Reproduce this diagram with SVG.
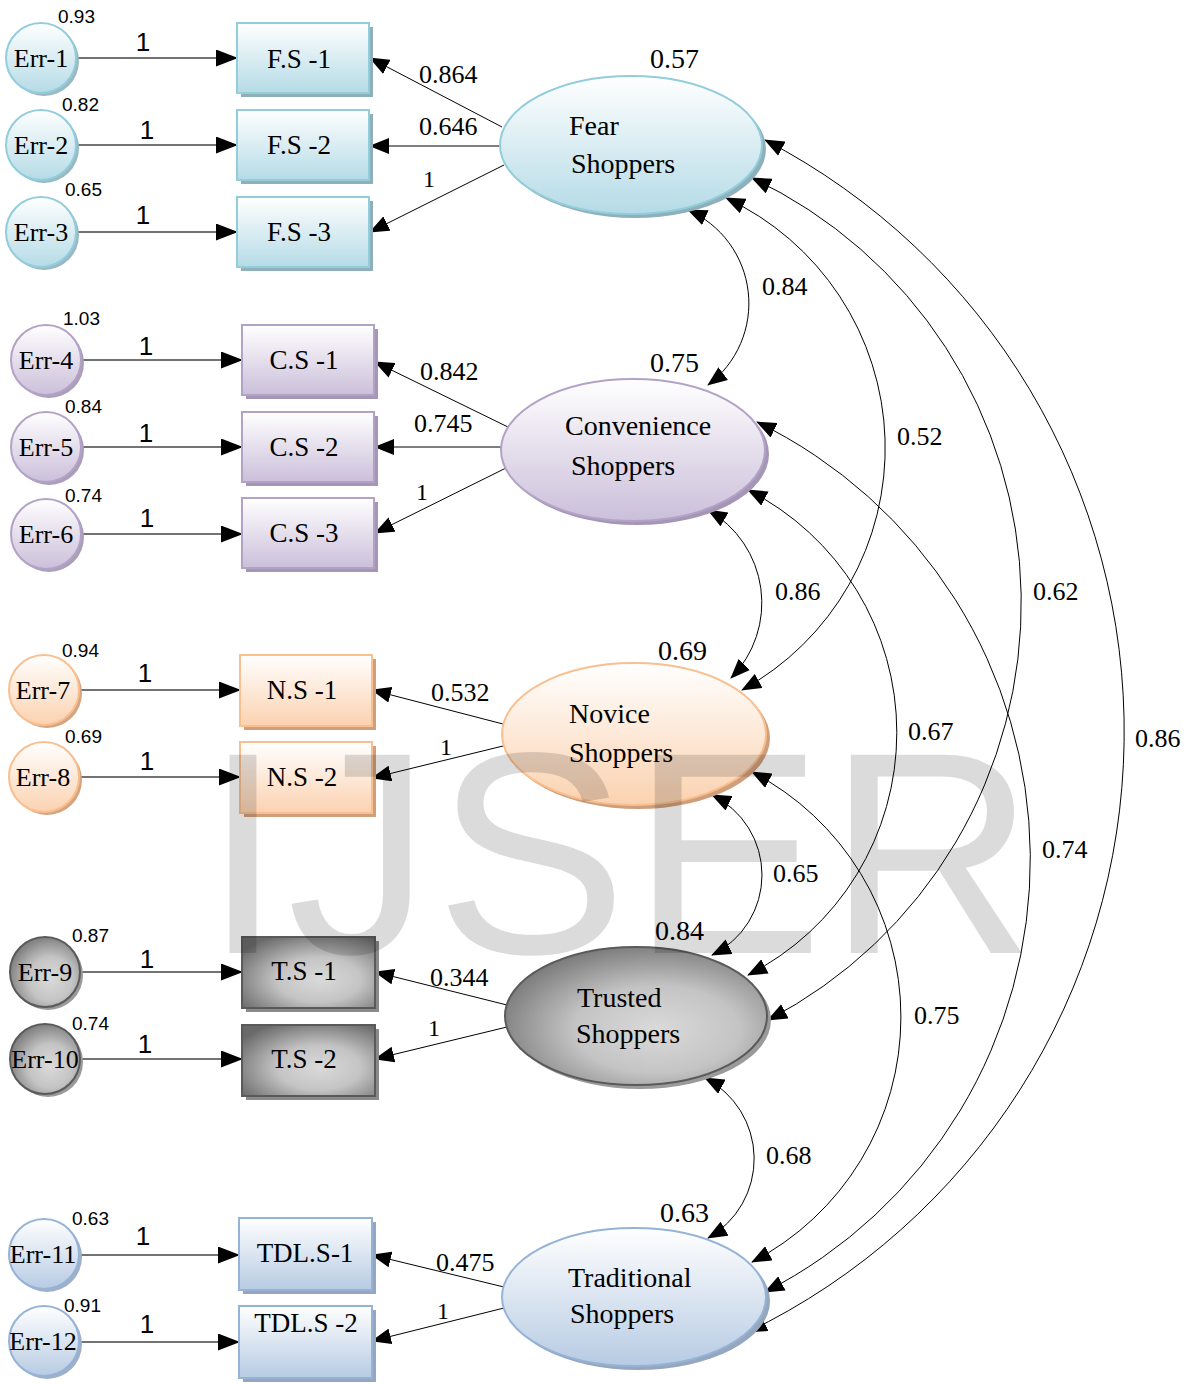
<svg xmlns="http://www.w3.org/2000/svg" width="1191" height="1384" viewBox="0 0 1191 1384">
<style>
.t{font-family:"Liberation Serif","Times New Roman",serif;fill:#000}
.tb{font-size:27px;text-anchor:middle}
.te{font-size:26px;text-anchor:middle}
.tl{font-size:28px}
.tn{font-size:26px}
.a{font-family:"Liberation Sans",Arial,sans-serif;fill:#000}
.av{font-size:19px}
.a1{font-size:26px;text-anchor:middle}
.eline{stroke:#444;stroke-width:1.4;fill:none}
.ln{stroke:#000;stroke-width:1;fill:none}
.cov{stroke:#000;stroke-width:1;fill:none}
.fear{stroke:#92cddc;stroke-width:2}
.conv{stroke:#b3a2c7;stroke-width:2}
.nov{stroke:#f9bf8f;stroke-width:2}
.trus{stroke:#5a5a5a;stroke-width:2}
.trad{stroke:#95b3d7;stroke-width:2}
</style>
<defs>
<linearGradient id="gFear" x1="0" y1="0" x2="0" y2="1"><stop offset="0" stop-color="#ffffff"/><stop offset="1" stop-color="#b5dbe6"/></linearGradient>
<linearGradient id="gConv" x1="0" y1="0" x2="0" y2="1"><stop offset="0" stop-color="#ffffff"/><stop offset="1" stop-color="#cbbfda"/></linearGradient>
<linearGradient id="gNov" x1="0" y1="0" x2="0" y2="1"><stop offset="0" stop-color="#ffffff"/><stop offset="1" stop-color="#fbd2b0"/></linearGradient>
<linearGradient id="gTrad" x1="0" y1="0" x2="0" y2="1"><stop offset="0" stop-color="#ffffff"/><stop offset="1" stop-color="#b7cbe3"/></linearGradient>
<radialGradient id="gTrus" cx="0.58" cy="0.6" r="0.7"><stop offset="0" stop-color="#dadada"/><stop offset="0.45" stop-color="#c4c4c4"/><stop offset="1" stop-color="#6a6a6a"/></radialGradient>
<marker id="ah" viewBox="0 0 22 17" refX="21" refY="8.5" markerWidth="22" markerHeight="17" markerUnits="userSpaceOnUse" orient="auto-start-reverse"><path d="M0,0 L22,8.5 L0,17 z" fill="#000"/></marker>
<marker id="ahs" viewBox="0 0 20 16" refX="19" refY="8" markerWidth="20" markerHeight="16" markerUnits="userSpaceOnUse" orient="auto-start-reverse"><path d="M0,0 L20,8 L0,16 z" fill="#000"/></marker>
</defs>
<rect width="1191" height="1384" fill="#fff"/>

<g id="connectors">
<path class="eline" d="M76,58 H237" marker-end="url(#ah)"/>
<path class="eline" d="M76,145 H237" marker-end="url(#ah)"/>
<path class="eline" d="M76,232 H237" marker-end="url(#ah)"/>
<path class="eline" d="M81,360 H242" marker-end="url(#ah)"/>
<path class="eline" d="M81,447 H242" marker-end="url(#ah)"/>
<path class="eline" d="M81,534 H242" marker-end="url(#ah)"/>
<path class="eline" d="M79,690 H240" marker-end="url(#ah)"/>
<path class="eline" d="M79,777 H240" marker-end="url(#ah)"/>
<path class="eline" d="M80,972 H242" marker-end="url(#ah)"/>
<path class="eline" d="M80,1059 H242" marker-end="url(#ah)"/>
<path class="eline" d="M79,1255 H239" marker-end="url(#ah)"/>
<path class="eline" d="M79,1342 H239" marker-end="url(#ah)"/>
<path class="ln" d="M502,127 L370,58" marker-end="url(#ahs)"/>
<path class="ln" d="M500,146 L370,146" marker-end="url(#ahs)"/>
<path class="ln" d="M504,165 L370,232" marker-end="url(#ahs)"/>
<path class="ln" d="M510,428 L375,362" marker-end="url(#ahs)"/>
<path class="ln" d="M502,447 L375,447" marker-end="url(#ahs)"/>
<path class="ln" d="M508,467 L375,533" marker-end="url(#ahs)"/>
<path class="ln" d="M503,724 L372,690" marker-end="url(#ahs)"/>
<path class="ln" d="M503,746 L372,778" marker-end="url(#ahs)"/>
<path class="ln" d="M507,1005 L375,972" marker-end="url(#ahs)"/>
<path class="ln" d="M507,1027 L375,1059" marker-end="url(#ahs)"/>
<path class="ln" d="M504,1287 L372,1255" marker-end="url(#ahs)"/>
<path class="ln" d="M504,1308 L372,1341" marker-end="url(#ahs)"/>
<path class="cov" d="M688,210 A102,102 0 0 1 708,385" marker-start="url(#ahs)" marker-end="url(#ahs)"/>
<path class="cov" d="M726,198 A276,276 0 0 1 742,690" marker-start="url(#ahs)" marker-end="url(#ahs)"/>
<path class="cov" d="M752,178 A470,470 0 0 1 768,1020" marker-start="url(#ahs)" marker-end="url(#ahs)"/>
<path class="cov" d="M765,140 A667,667 0 0 1 748,1332" marker-start="url(#ahs)" marker-end="url(#ahs)"/>
<path class="cov" d="M708,510 A107,107 0 0 1 731,678" marker-start="url(#ahs)" marker-end="url(#ahs)"/>
<path class="cov" d="M757,422 A486,486 0 0 1 765,1292" marker-start="url(#ahs)" marker-end="url(#ahs)"/>
<path class="cov" d="M748,490 A272,272 0 0 1 748,975" marker-start="url(#ahs)" marker-end="url(#ahs)"/>
<path class="cov" d="M712,795 A89,89 0 0 1 712,955" marker-start="url(#ahs)" marker-end="url(#ahs)"/>
<path class="cov" d="M752,772 A276,276 0 0 1 752,1262" marker-start="url(#ahs)" marker-end="url(#ahs)"/>
<path class="cov" d="M705,1078 A91,91 0 0 1 708,1238" marker-start="url(#ahs)" marker-end="url(#ahs)"/>
<g class="a a1">
<text x="143" y="51">1</text><text x="147" y="139">1</text><text x="143" y="224">1</text>
<text x="146" y="355">1</text><text x="146" y="442">1</text><text x="147" y="527">1</text>
<text x="145" y="682">1</text><text x="147" y="770">1</text>
<text x="147" y="968">1</text><text x="145" y="1053">1</text>
<text x="143" y="1245">1</text><text x="147" y="1333">1</text>
</g>
<g class="t tn">
<text x="419" y="83">0.864</text><text x="419" y="135">0.646</text><text x="423" y="187" font-size="24">1</text>
<text x="420" y="380">0.842</text><text x="414" y="432">0.745</text><text x="416" y="500" font-size="24">1</text>
<text x="431" y="701">0.532</text><text x="440" y="755" font-size="24">1</text>
<text x="430" y="986">0.344</text><text x="428" y="1036" font-size="24">1</text>
<text x="436" y="1271">0.475</text><text x="437" y="1319" font-size="24">1</text>
<text x="762" y="295">0.84</text><text x="897" y="445">0.52</text><text x="775" y="600">0.86</text>
<text x="1033" y="600">0.62</text><text x="908" y="740">0.67</text><text x="1135" y="747">0.86</text>
<text x="1042" y="858">0.74</text><text x="773" y="882">0.65</text><text x="914" y="1024">0.75</text>
<text x="766" y="1164">0.68</text>
</g>
</g>

<g id="err-1"><circle cx="44" cy="61" r="35" fill="#9ab9c2"/><circle class="fear" cx="41" cy="58" r="35" fill="url(#gFear)"/><text class="t te" x="41" y="67">Err-1</text><text class="a av" x="58" y="23">0.93</text></g>
<g id="err-2"><circle cx="44" cy="148" r="35" fill="#9ab9c2"/><circle class="fear" cx="41" cy="145" r="35" fill="url(#gFear)"/><text class="t te" x="41" y="154">Err-2</text><text class="a av" x="62" y="111">0.82</text></g>
<g id="err-3"><circle cx="44" cy="235" r="35" fill="#9ab9c2"/><circle class="fear" cx="41" cy="232" r="35" fill="url(#gFear)"/><text class="t te" x="41" y="241">Err-3</text><text class="a av" x="65" y="196">0.65</text></g>
<g id="err-4"><circle cx="49" cy="363" r="35" fill="#ab9fb8"/><circle class="conv" cx="46" cy="360" r="35" fill="url(#gConv)"/><text class="t te" x="46" y="369">Err-4</text><text class="a av" x="63" y="325">1.03</text></g>
<g id="err-5"><circle cx="49" cy="450" r="35" fill="#ab9fb8"/><circle class="conv" cx="46" cy="447" r="35" fill="url(#gConv)"/><text class="t te" x="46" y="456">Err-5</text><text class="a av" x="65" y="413">0.84</text></g>
<g id="err-6"><circle cx="49" cy="537" r="35" fill="#ab9fb8"/><circle class="conv" cx="46" cy="534" r="35" fill="url(#gConv)"/><text class="t te" x="46" y="543">Err-6</text><text class="a av" x="65" y="502">0.74</text></g>
<g id="err-7"><circle cx="47" cy="693" r="35" fill="#d4a582"/><circle class="nov" cx="44" cy="690" r="35" fill="url(#gNov)"/><text class="t te" x="43" y="699">Err-7</text><text class="a av" x="62" y="657">0.94</text></g>
<g id="err-8"><circle cx="47" cy="780" r="35" fill="#d4a582"/><circle class="nov" cx="44" cy="777" r="35" fill="url(#gNov)"/><text class="t te" x="43" y="786">Err-8</text><text class="a av" x="65" y="743">0.69</text></g>
<g id="err-9"><circle cx="48" cy="975" r="35" fill="#9a9a9a"/><circle class="trus" cx="45" cy="972" r="35" fill="url(#gTrus)"/><text class="t te" x="45" y="981">Err-9</text><text class="a av" x="72" y="942">0.87</text></g>
<g id="err-10"><circle cx="48" cy="1062" r="35" fill="#9a9a9a"/><circle class="trus" cx="45" cy="1059" r="35" fill="url(#gTrus)"/><text class="t te" x="45" y="1068">Err-10</text><text class="a av" x="72" y="1030">0.74</text></g>
<g id="err-11"><circle cx="47" cy="1257" r="35" fill="#9fb0c6"/><circle class="trad" cx="44" cy="1254" r="35" fill="url(#gTrad)"/><text class="t te" x="43" y="1263">Err-11</text><text class="a av" x="72" y="1225">0.63</text></g>
<g id="err-12"><circle cx="47" cy="1344" r="35" fill="#9fb0c6"/><circle class="trad" cx="44" cy="1341" r="35" fill="url(#gTrad)"/><text class="t te" x="43" y="1350">Err-12</text><text class="a av" x="64" y="1312">0.91</text></g>

<g id="fs-1"><rect x="241" y="27" width="132" height="70" fill="#8fb0ba"/><rect class="fear" x="237" y="23" width="132" height="70" fill="url(#gFear)"/><text class="t tb" x="299" y="68">F.S -1</text></g>
<g id="fs-2"><rect x="241" y="114" width="132" height="70" fill="#8fb0ba"/><rect class="fear" x="237" y="110" width="132" height="70" fill="url(#gFear)"/><text class="t tb" x="299" y="154">F.S -2</text></g>
<g id="fs-3"><rect x="241" y="201" width="132" height="70" fill="#8fb0ba"/><rect class="fear" x="237" y="197" width="132" height="70" fill="url(#gFear)"/><text class="t tb" x="299" y="241">F.S -3</text></g>
<g id="cs-1"><rect x="246" y="329" width="132" height="70" fill="#a596b5"/><rect class="conv" x="242" y="325" width="132" height="70" fill="url(#gConv)"/><text class="t tb" x="304" y="369">C.S -1</text></g>
<g id="cs-2"><rect x="246" y="416" width="132" height="70" fill="#a596b5"/><rect class="conv" x="242" y="412" width="132" height="70" fill="url(#gConv)"/><text class="t tb" x="304" y="456">C.S -2</text></g>
<g id="cs-3"><rect x="246" y="502" width="132" height="70" fill="#a596b5"/><rect class="conv" x="242" y="498" width="132" height="70" fill="url(#gConv)"/><text class="t tb" x="304" y="542">C.S -3</text></g>
<g id="ns-1"><rect x="244" y="659" width="132" height="71" fill="#cf9f7c"/><rect class="nov" x="240" y="655" width="132" height="71" fill="url(#gNov)"/><text class="t tb" x="302" y="699">N.S -1</text></g>
<g id="ns-2"><rect x="244" y="746" width="132" height="71" fill="#cf9f7c"/><rect class="nov" x="240" y="742" width="132" height="71" fill="url(#gNov)"/><text class="t tb" x="302" y="786">N.S -2</text></g>
<g id="ts-1"><rect x="246" y="941" width="133" height="71" fill="#8a8a8a"/><rect class="trus" x="242" y="937" width="133" height="71" fill="url(#gTrus)"/><text class="t tb" x="304" y="980">T.S -1</text></g>
<g id="ts-2"><rect x="246" y="1029" width="133" height="71" fill="#8a8a8a"/><rect class="trus" x="242" y="1025" width="133" height="71" fill="url(#gTrus)"/><text class="t tb" x="304" y="1068">T.S -2</text></g>
<g id="tdl-1"><rect x="243" y="1222" width="133" height="72" fill="#95a6bd"/><rect class="trad" x="239" y="1218" width="133" height="72" fill="url(#gTrad)"/><text class="t tb" x="305" y="1262">TDL.S-1</text></g>
<g id="tdl-2"><rect x="243" y="1310" width="133" height="72" fill="#95a6bd"/><rect class="trad" x="239" y="1306" width="133" height="72" fill="url(#gTrad)"/><text class="t tb" x="306" y="1332">TDL.S -2</text></g>

<g id="fear"><ellipse cx="635" cy="149" rx="131" ry="69" fill="#8fb0ba"/><ellipse class="fear" cx="631" cy="145" rx="131" ry="69" fill="url(#gFear)"/><text class="t tl" x="569" y="135">Fear</text><text class="t tl" x="571" y="173">Shoppers</text><text class="t tl" x="650" y="68">0.57</text></g>
<g id="convenience"><ellipse cx="637" cy="454" rx="132" ry="71" fill="#a596b5"/><ellipse class="conv" cx="633" cy="450" rx="132" ry="71" fill="url(#gConv)"/><text class="t tl" x="565" y="435">Convenience</text><text class="t tl" x="571" y="475">Shoppers</text><text class="t tl" x="650" y="372">0.75</text></g>
<g id="novice"><ellipse cx="638" cy="738" rx="132" ry="71" fill="#cf9f7c"/><ellipse class="nov" cx="634" cy="734" rx="132" ry="71" fill="url(#gNov)"/><text class="t tl" x="569" y="723">Novice</text><text class="t tl" x="569" y="762">Shoppers</text><text class="t tl" x="658" y="660">0.69</text></g>
<g id="trusted"><ellipse cx="640" cy="1020" rx="131" ry="69" fill="#9a9a9a"/><ellipse class="trus" cx="636" cy="1016" rx="131" ry="69" fill="url(#gTrus)"/><text class="t tl" x="577" y="1007">Trusted</text><text class="t tl" x="576" y="1043">Shoppers</text><text class="t tl" x="655" y="940">0.84</text></g>
<g id="traditional"><ellipse cx="638" cy="1301" rx="132" ry="69" fill="#95a6bd"/><ellipse class="trad" cx="634" cy="1297" rx="132" ry="69" fill="url(#gTrad)"/><text class="t tl" x="568" y="1287">Traditional</text><text class="t tl" x="570" y="1323">Shoppers</text><text class="t tl" x="660" y="1222">0.63</text></g>

<text id="watermark" x="203" y="953" font-family="Liberation Sans, Arial, sans-serif" font-size="288" letter-spacing="4" fill="#000" fill-opacity="0.14">IJSER</text>
</svg>
